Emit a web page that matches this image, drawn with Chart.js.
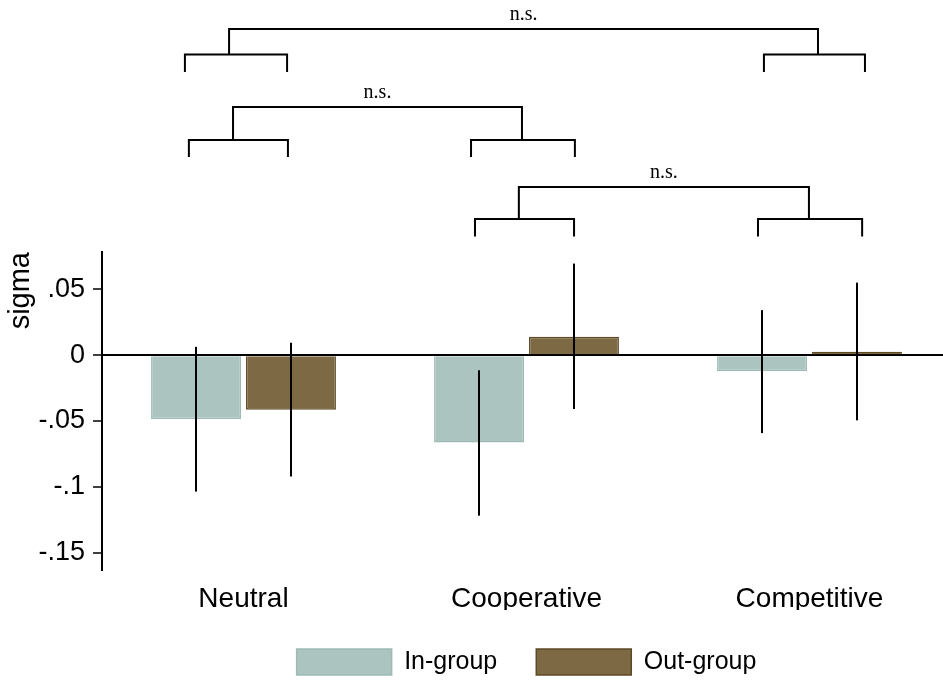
<!DOCTYPE html>
<html>
<head>
<meta charset="utf-8">
<script src="https://cdn.jsdelivr.net/npm/chart.js@4.4.0/dist/chart.umd.min.js"></script>
<style>
  body { margin: 0; overflow: hidden; background: #fff; }
  #wrap { width: 951px; height: 680px; }
</style>
</head>
<body>
<div id="wrap"><canvas id="sigmaChart"></canvas></div>
<script>
// values
const categories = ['Neutral', 'Cooperative', 'Competitive'];
const seriesNames = ['In-group', 'Out-group'];
const inGroup = [-0.0485, -0.0663, -0.0122];
const outGroup = [-0.0414, 0.0140, 0.0026];
const inLow = [-0.1037, -0.1220, -0.0592];
const inHigh = [0.0064, -0.0114, 0.0343];
const outLow = [-0.0922, -0.0409, -0.0495];
const outHigh = [0.0095, 0.0697, 0.0552];
const yTicks = [0.05, 0, -0.05, -0.1, -0.15];
const yTickLabels = ['.05', '0', '-.05', '-.1', '-.15'];

// comparisons drawn above the plot (category index pairs)
const bracketPairs = [[0, 2], [0, 1], [1, 2]];
const bracketLabels = ['n.s.', 'n.s.', 'n.s.'];
// pixel rows for each bracket: top bar, lower bar, leg end, label baseline
const bracketRows = [
  { top: 29, mid: 54.5, leg: 72, text: 20 },
  { top: 107, mid: 140, leg: 157, text: 98 },
  { top: 187, mid: 219, leg: 236.5, text: 178 }
];
// leg / stem offsets in category widths, as drawn (left leg, right leg, stem) per side
const bracketShape = [
  [[-0.207, 0.154, -0.051], [-0.161, 0.196, 0.030]],
  [[-0.193, 0.157, -0.037], [-0.196, 0.171, -0.016]],
  [[-0.182, 0.168, -0.027], [-0.182, 0.186, -0.002]]
];

Chart.defaults.font.family = "'Liberation Sans', Arial, sans-serif";
Chart.defaults.color = '#000';

// vertical confidence lines on each bar
const errorBars = {
  id: 'errorBars',
  afterDatasetsDraw(chart) {
    const ctx = chart.ctx, y = chart.scales.y;
    ctx.save();
    ctx.strokeStyle = '#000';
    ctx.lineWidth = 2;
    chart.data.datasets.forEach((ds, i) => {
      chart.getDatasetMeta(i).data.forEach((bar, j) => {
        ctx.beginPath();
        ctx.moveTo(bar.x, y.getPixelForValue(ds.errLow[j]));
        ctx.lineTo(bar.x, y.getPixelForValue(ds.errHigh[j]));
        ctx.stroke();
      });
    });
    ctx.restore();
  }
};

// significance brackets
const brackets = {
  id: 'brackets',
  afterDraw(chart) {
    const ctx = chart.ctx, x = chart.scales.x;
    ctx.save();
    ctx.strokeStyle = '#000';
    ctx.lineWidth = 2;
    ctx.fillStyle = '#000';
    ctx.font = '20px "Liberation Serif", "Times New Roman", serif';
    ctx.textAlign = 'center';
    ctx.textBaseline = 'alphabetic';
    bracketPairs.forEach((pair, k) => {
      const row = bracketRows[k];
      const stems = pair.map((c, s) => {
        const [lo, ro, so] = bracketShape[k][s];
        const l = x.getPixelForValue(c + lo);
        const r = x.getPixelForValue(c + ro);
        ctx.beginPath();
        ctx.moveTo(l, row.leg);
        ctx.lineTo(l, row.mid);
        ctx.lineTo(r, row.mid);
        ctx.lineTo(r, row.leg);
        ctx.stroke();
        return x.getPixelForValue(c + so);
      });
      ctx.beginPath();
      ctx.moveTo(stems[0], row.mid);
      ctx.lineTo(stems[0], row.top);
      ctx.lineTo(stems[1], row.top);
      ctx.lineTo(stems[1], row.mid);
      ctx.stroke();
      ctx.fillText(bracketLabels[k], (stems[0] + stems[1]) / 2, row.text);
    });
    ctx.restore();
  }
};

new Chart(document.getElementById('sigmaChart'), {
  type: 'bar',
  data: {
    labels: categories,
    datasets: [{
      label: seriesNames[0],
      data: inGroup,
      errLow: inLow,
      errHigh: inHigh,
      backgroundColor: '#abc4bf',
      borderColor: '#9fbab4',
      borderWidth: 1.5
    }, {
      label: seriesNames[1],
      data: outGroup,
      errLow: outLow,
      errHigh: outHigh,
      backgroundColor: '#7d6a45',
      borderColor: '#5e4b26',
      borderWidth: 1.5
    }]
  },
  options: {
    responsive: true,
    maintainAspectRatio: false,
    animation: false,
    layout: { padding: { top: 252, left: 0, right: 0, bottom: 0 } },
    datasets: { bar: { categoryPercentage: 0.671, barPercentage: 0.947 } },
    plugins: {
      tooltip: { enabled: false },
      legend: {
        position: 'bottom',
        fullSize: false,
        maxHeight: 70,
        labels: { boxWidth: 95, boxHeight: 26, padding: 39, color: '#000', font: { size: 25 } }
      }
    },
    scales: {
      x: {
        grid: { display: false },
        border: { display: false },
        ticks: { font: { size: 28 }, padding: 4, color: '#000' },
        afterFit(scale) { scale.height = 40; }
      },
      y: {
        min: -0.1633,
        max: 0.0785,
        afterBuildTicks(scale) { scale.ticks = yTicks.map(v => ({ value: v })); },
        afterFit(scale) { scale.width = 102; },
        ticks: {
          font: { size: 27 },
          padding: 8,
          color: '#000',
          callback: (v, i) => yTickLabels[i]
        },
        grid: {
          color: c => (c.tick && c.tick.value === 0 ? '#000' : 'rgba(0,0,0,0)'),
          lineWidth: 2,
          tickColor: '#000',
          tickLength: 9,
          tickWidth: 1.5
        },
        border: { display: true, color: '#000', width: 2 },
        title: { display: true, text: 'sigma', align: 'end', font: { size: 29 }, color: '#000' }
      }
    }
  },
  plugins: [errorBars, brackets]
});
</script>
</body>
</html>
